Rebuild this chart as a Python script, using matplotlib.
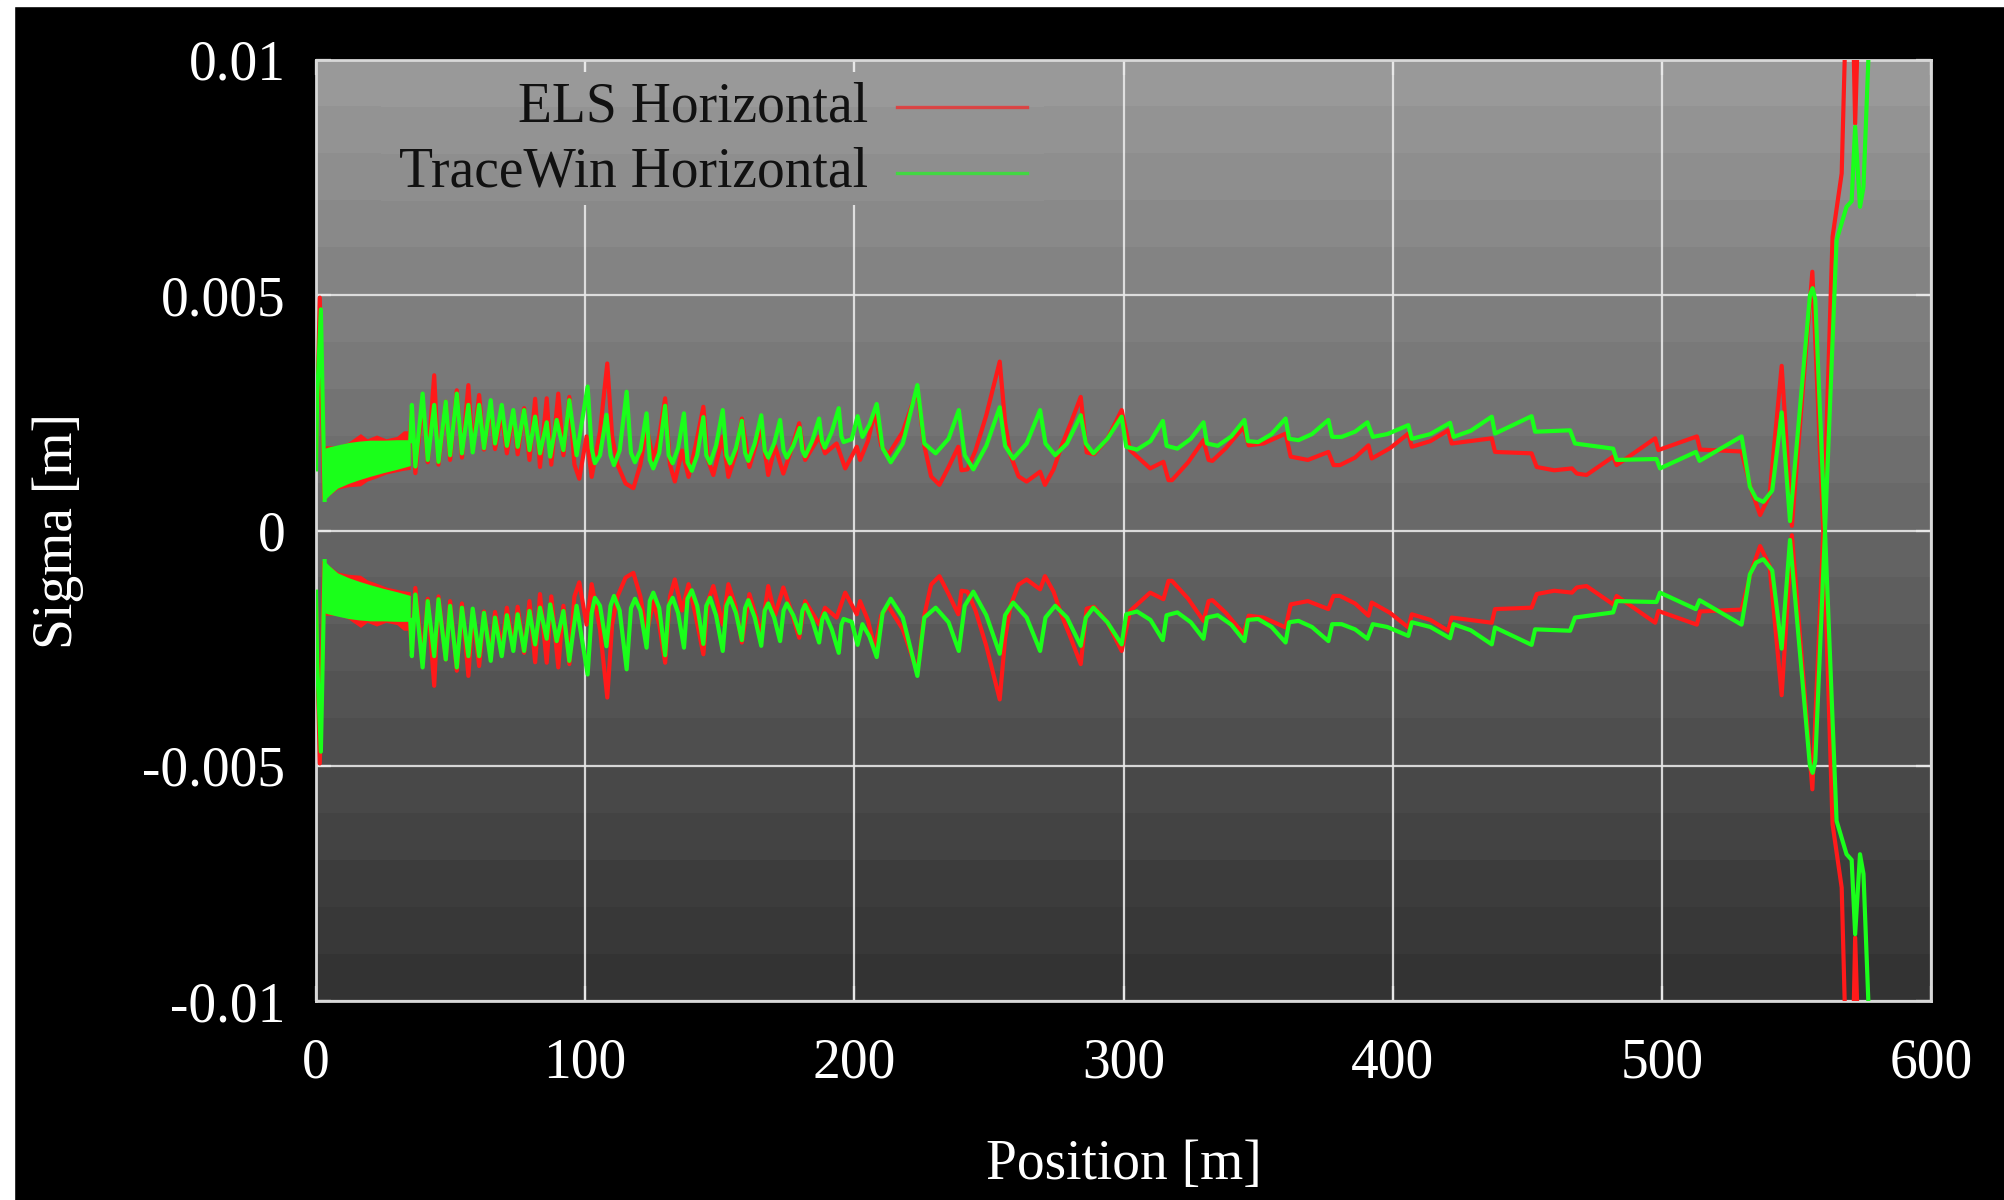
import numpy as np
import matplotlib
matplotlib.use("Agg")
import matplotlib.pyplot as plt
from matplotlib.patches import Rectangle

plt.rcParams['font.family'] = ['Liberation Serif', 'DejaVu Serif']

# horizontal beam sigma along the linac, in mm (plotted as +/- sigma in metres)
# entrance spike, before the fast-oscillating section
els_entry_pos = [0.0, 1.4, 3.0]
els_entry_sigma = [1.5, 4.95, 0.7]
tw_entry_pos = [0.0, 0.4, 1.8, 3.2]
tw_entry_sigma = [1.3, 2.8, 4.7, 0.65]

# fast-oscillating section (envelope of the oscillation), mm
els_band_pos = [3.0, 5.0, 8.0, 12.0, 16.5, 19.0, 22.5, 26.0, 30.0, 32.5, 35.0]
els_band_hi = [1.8, 1.8, 1.8, 1.88, 2.06, 1.95, 2.03, 1.95, 2.0, 2.12, 2.12]
els_band_lo = [0.7, 0.75, 0.88, 0.93, 0.95, 1.05, 1.12, 1.2, 1.25, 1.28, 1.3]
tw_band_pos = [3.2, 5.0, 8.0, 12.0, 16.0, 20.0, 25.0, 30.0, 35.0]
tw_band_hi = [1.75, 1.78, 1.82, 1.87, 1.9, 1.92, 1.92, 1.93, 1.93]
tw_band_lo = [0.65, 0.75, 0.9, 1.0, 1.08, 1.15, 1.23, 1.3, 1.38]

els_pos = [35.0, 35.6, 36.9, 39.6, 41.5, 43.9, 45.5, 48.2, 49.8, 52.3, 54.2, 56.6, 58.2,
           60.6, 62.4, 64.9, 66.5, 69.0, 70.9, 73.3, 74.9, 77.3, 79.3, 81.4, 83.2, 85.7,
           87.4, 90.0, 91.9, 94.1, 96.0, 97.8, 100.5, 102.4, 105.5, 108.2, 110.0, 112.0,
           115.0, 117.9, 120.5, 122.8, 125.3, 127.5, 129.7, 131.5, 133.3, 136.0, 138.4,
           141.0, 143.9, 145.6, 147.6, 151.1, 153.2, 155.8, 158.2, 161.0, 165.4, 168.0,
           170.5, 173.6, 176.5, 179.5, 181.7, 187.0, 189.1, 193.4, 196.6, 200.9, 202.1,
           205.0, 207.6, 210.0, 212.5, 218.0, 223.4, 226.0, 228.5, 231.6, 235.0, 238.6,
           239.8, 242.0, 245.0, 249.0, 254.0, 256.0, 258.0, 261.0, 264.0, 269.0, 270.8,
           274.0, 277.0, 280.5, 284.1, 286.3, 289.0, 294.0, 299.3,
           302.4, 309.9, 314.8, 316.7, 318.0, 324.0, 329.7, 331.6, 333.0, 338.0,
           344.6, 346.5, 352.0, 360.2, 362.1, 368.5, 376.1, 378.0, 380.4, 386.0, 391.0,
           392.2, 399.0, 405.8, 407.1, 414.0, 420.6, 421.9, 436.8, 438.0, 451.6, 453.5,
           460.0, 466.6, 468.4, 472.0, 481.9, 483.2, 497.5, 498.7, 513.0, 514.2, 529.6,
           533.0, 536.5, 540.0, 544.5, 548.3, 555.9, 560.0, 563.4, 566.8, 568.6, 570.8,
           571.8, 573.3]
els_sigma = [2.1, 2.55, 1.22, 2.75, 1.45, 3.3, 1.4, 2.74, 1.5, 2.98, 1.55, 3.09, 1.7,
             2.88, 1.72, 2.68, 1.73, 2.5, 1.64, 2.5, 1.62, 2.6, 1.5, 2.8, 1.35, 2.81,
             1.4, 2.91, 1.6, 2.84, 1.4, 1.1, 2.0, 1.14, 2.1, 3.55, 2.0, 1.4,
             1.0, 0.9, 1.4, 2.2, 1.5, 2.0, 2.81, 1.4, 1.04, 1.7, 1.14,
             1.8, 2.63, 1.5, 1.18, 2.0, 1.14, 1.6, 2.38, 1.35, 2.2, 1.18,
             1.8, 1.21, 1.7, 2.28, 1.5, 2.0, 1.64, 1.85, 1.32, 1.78, 1.5,
             1.9, 2.52, 1.8, 1.6, 2.1, 3.0, 1.8, 1.15, 0.97, 1.35, 1.78,
             1.28, 1.3, 1.7, 2.45, 3.59, 2.3, 1.6, 1.15, 1.04, 1.25, 0.97,
             1.3, 1.8, 2.3, 2.84, 1.66, 1.62, 1.95, 2.56,
             1.71, 1.32, 1.46, 1.07, 1.07, 1.45, 1.92, 1.5, 1.48, 1.75,
             2.2, 1.81, 1.85, 2.06, 1.57, 1.5, 1.67, 1.39, 1.39, 1.55, 1.81,
             1.53, 1.75, 2.06, 1.78, 1.9, 2.13, 1.85, 1.96, 1.67, 1.64, 1.35,
             1.28, 1.32, 1.21, 1.18, 1.57, 1.39, 1.96, 1.71, 2.0, 1.72, 1.68,
             0.9, 0.33, 0.75, 3.5, 0.1, 5.5, 0.0, 6.24, 7.59, 11.5, 11.5,
             8.65, 11.5]

tw_pos = [35.0, 35.6, 36.9, 39.6, 41.5, 43.9, 45.5, 48.2, 49.8, 52.3, 54.2, 56.6, 58.2,
          60.6, 62.4, 64.9, 66.5, 69.0, 70.9, 73.3, 74.9, 77.3, 79.3, 81.4, 83.2, 85.7,
          87.0, 89.4, 91.9, 94.1, 96.8, 100.9, 102.4, 103.6, 105.5, 107.9, 109.4, 110.7,
          112.8, 115.4, 117.0, 118.5, 120.5, 122.8, 124.0, 125.3, 127.5, 129.7, 131.0,
          132.5, 134.5, 136.7, 138.0, 139.6, 141.6, 143.9, 145.0, 146.4, 148.6, 151.1,
          152.5, 153.8, 156.0, 158.2, 159.4, 160.6, 163.0, 165.4, 166.7, 168.0, 170.2,
          172.4, 173.7, 174.9, 177.3, 179.7, 180.7, 181.7, 184.3, 186.9, 188.0, 189.0,
          191.6, 194.2, 195.2, 196.0, 199.0, 201.2, 203.0, 205.6, 208.3, 210.5, 213.5,
          218.0, 223.4, 226.0, 230.2, 235.0, 238.8, 241.0, 244.2, 249.0, 254.0, 256.0,
          259.0, 264.0, 269.0, 271.0, 274.6, 279.0, 284.1, 286.0, 288.8, 294.0, 299.3,
          301.0, 305.0, 310.0, 314.6, 316.0, 320.0,
          325.0, 329.7, 331.0, 335.0, 340.0, 344.9, 346.2, 350.0, 355.0, 360.2, 361.5,
          365.0, 370.0, 376.1, 377.5, 381.0, 386.0, 390.6, 392.6, 398.0, 405.8, 407.1,
          414.0, 421.3, 422.6, 429.0, 436.8, 438.0, 451.6, 452.9, 465.9, 467.7, 481.9,
          483.2, 498.0, 499.3, 512.6, 514.0, 529.6, 532.7, 535.0, 537.7, 541.0, 544.5,
          547.6, 555.0, 556.0, 557.0, 560.6, 564.9, 568.6, 570.5, 571.8, 573.6, 574.9,
          576.7, 577.5]
tw_sigma = [1.9, 2.67, 1.36, 2.91, 1.5, 2.67, 1.46, 2.74, 1.6, 2.91, 1.64, 2.67, 1.66,
            2.67, 1.75, 2.77, 1.85, 2.67, 1.8, 2.56, 1.78, 2.56, 1.71, 2.42, 1.64, 2.3,
            1.57, 2.35, 1.71, 2.77, 1.6, 3.06, 1.75, 1.43, 1.6, 2.46, 1.6, 1.39,
            1.7, 2.95, 1.65, 1.45, 1.7, 2.49, 1.5, 1.32, 1.65, 2.65, 1.6,
            1.43, 1.75, 2.49, 1.45, 1.27, 1.6, 2.41, 1.6, 1.43, 1.8, 2.56,
            1.6, 1.43, 1.75, 2.33, 1.65, 1.48, 1.85, 2.45, 1.7, 1.55, 1.85,
            2.35, 1.7, 1.55, 1.8, 2.18, 1.7, 1.58, 1.9, 2.38, 1.9, 1.76,
            2.1, 2.6, 2.0, 1.88, 1.94, 2.43, 1.99, 2.25, 2.69, 1.75, 1.45,
            1.85, 3.09, 1.85, 1.64, 1.95, 2.56, 1.6, 1.3, 1.8, 2.62, 1.8,
            1.53, 1.85, 2.56, 1.85, 1.6, 1.85, 2.45, 1.85, 1.64, 1.95, 2.42,
            1.78, 1.72, 1.9, 2.33, 1.8, 1.74,
            1.95, 2.3, 1.85, 1.8, 2.0, 2.35, 1.9, 1.88, 2.05, 2.38, 1.95,
            1.92, 2.05, 2.35, 1.99, 1.99, 2.1, 2.3, 1.99, 2.05, 2.24, 1.95,
            2.05, 2.29, 1.99, 2.12, 2.42, 2.06, 2.43, 2.1, 2.13, 1.85, 1.74,
            1.5, 1.52, 1.32, 1.67, 1.48, 2.0, 0.93, 0.68, 0.61, 0.85, 2.51,
            0.2, 5.0, 5.15, 4.9, 0.0, 6.17, 6.88, 7.0, 8.58, 6.88, 7.3,
            10.0, 11.5]

x_ticks = [0, 100, 200, 300, 400, 500, 600]
y_ticks = [-0.01, -0.005, 0, 0.005, 0.01]
y_ticklabels = ['-0.01', '-0.005', '0', '0.005', '0.01']

RED = '#ff1a1a'
GREEN = '#1aff1a'
FS = 40
LW = 3.0

fig = plt.figure(figsize=(20.04, 12), dpi=100, facecolor='black')
# thin white margin on the left and top edges of the canvas
fig.patches.append(Rectangle((0, 0), 14 / 2004, 1, transform=fig.transFigure,
                             color='white', zorder=-10))
fig.patches.append(Rectangle((0, 1 - 6 / 1200), 1, 6 / 1200, transform=fig.transFigure,
                             color='white', zorder=-10))

ax = fig.add_axes([0.1577, 0.1658, 0.8059, 0.7842])
ax.set_facecolor('#666666')

# banded grey gradient behind the plot
grad = np.linspace(0.60, 0.20, 20).reshape(-1, 1)
ax.imshow(grad, extent=[0, 1, 0, 1], transform=ax.transAxes, aspect='auto',
          cmap='gray', vmin=0, vmax=1, interpolation='nearest', zorder=0)

ax.set_axisbelow(True)
ax.grid(True, color='#e8e8e8', lw=1.6, alpha=0.9)

mm = 1e-3
for pos, lo, hi, col, z in [(els_band_pos, els_band_lo, els_band_hi, RED, 2),
                            (tw_band_pos, tw_band_lo, tw_band_hi, GREEN, 4)]:
    p = np.array(pos)
    ax.fill_between(p, np.array(lo) * mm, np.array(hi) * mm, color=col, lw=0, zorder=z)
    ax.fill_between(p, -np.array(hi) * mm, -np.array(lo) * mm, color=col, lw=0, zorder=z)

for pos, sig, col, z in [(els_entry_pos, els_entry_sigma, RED, 3),
                         (els_pos, els_sigma, RED, 3),
                         (tw_entry_pos, tw_entry_sigma, GREEN, 5),
                         (tw_pos, tw_sigma, GREEN, 5)]:
    s = np.array(sig) * mm
    ax.plot(pos, s, color=col, lw=LW, zorder=z)
    ax.plot(pos, -s, color=col, lw=LW, zorder=z)

# key: grid hidden behind it, text right-aligned with the sample line after it
cover = ax.imshow(grad, extent=[0, 1, 0, 1], transform=ax.transAxes, aspect='auto',
                  cmap='gray', vmin=0, vmax=1, interpolation='nearest', zorder=1)
cover.set_clip_path(Rectangle((0.04, 0.846), 0.41, 0.141, transform=ax.transAxes))
for yk, label, col in [(0.950, 'ELS Horizontal', RED), (0.880, 'TraceWin Horizontal', GREEN)]:
    ax.text(0.342, yk, label, transform=ax.transAxes, ha='right', va='center',
            fontsize=FS, color='#111111', zorder=6)
    ax.plot([0.360, 0.440], [yk, yk], transform=ax.transAxes, color=col,
            lw=2.4, alpha=0.65, zorder=6)

ax.set_xlim(0, 600)
ax.set_ylim(-0.01, 0.01)
ax.set_xticks(x_ticks)
ax.set_yticks(y_ticks)
ax.set_yticklabels(y_ticklabels)
ax.tick_params(direction='in', length=11, width=1.6, color='#e8e8e8',
               top=True, right=True, labelsize=FS, labelcolor='white')
ax.tick_params(axis='y', pad=22)
ax.tick_params(axis='x', pad=26)
for s in ax.spines.values():
    s.set_color('#d8d8d8')
    s.set_linewidth(2)

ax.set_xlabel('Position [m]', fontsize=FS, color='white', labelpad=36)
ax.set_ylabel('Sigma [m]', fontsize=FS, color='white', labelpad=42)

fig.savefig('out.png', dpi=100, facecolor='black')
